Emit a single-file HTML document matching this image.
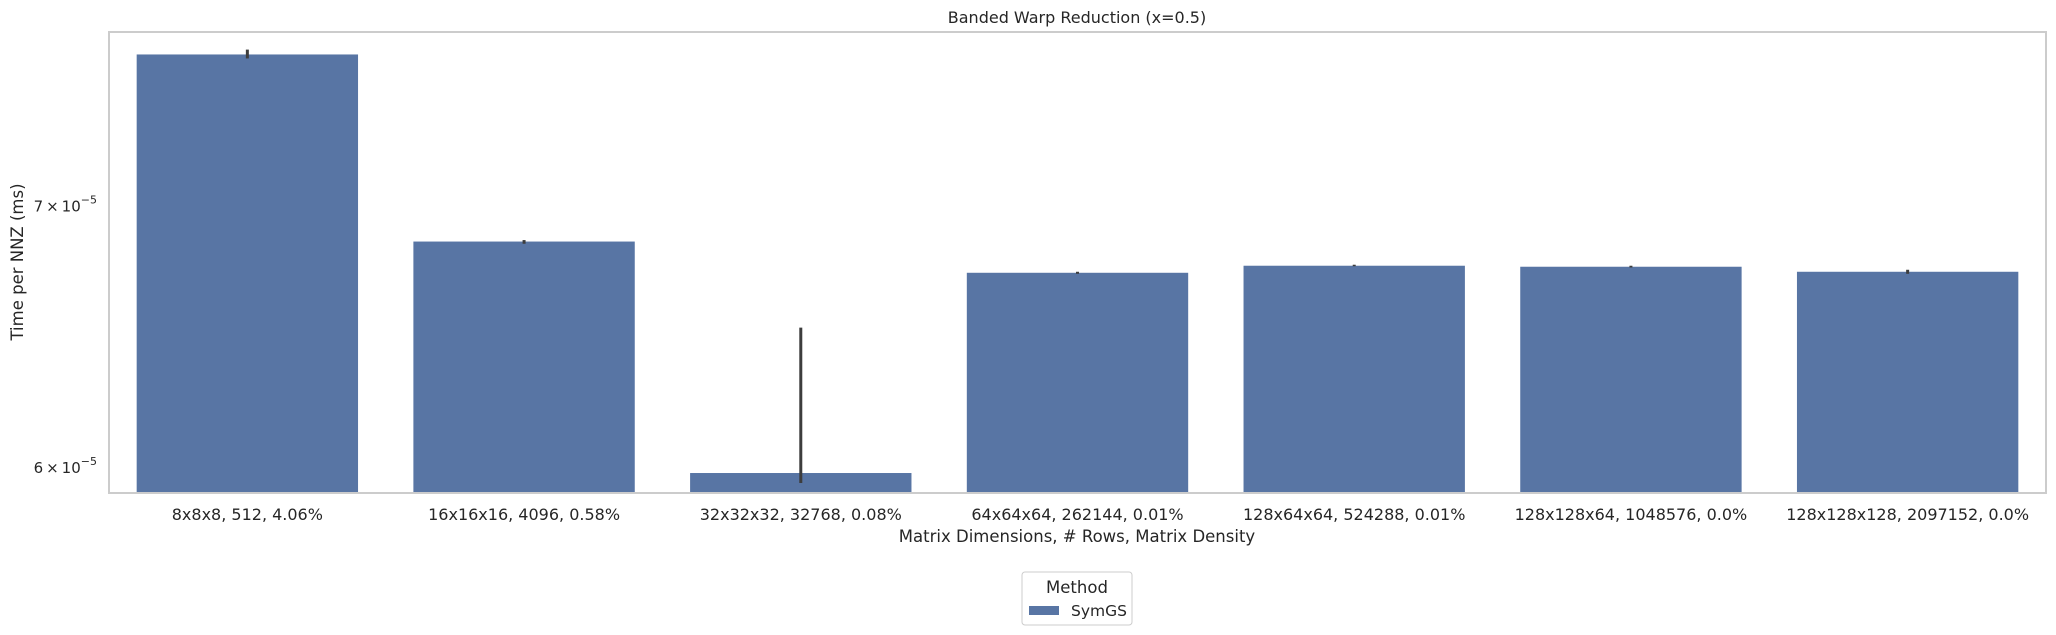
<!DOCTYPE html>
<html><head><meta charset="utf-8"><style>
body{margin:0;background:#fff;}
svg{display:block;font-family:"DejaVu Sans","Liberation Sans",sans-serif;}
</style></head><body>
<svg id="chart" width="2056" height="635" viewBox="0 0 2056 635" xmlns="http://www.w3.org/2000/svg">
<rect x="0" y="0" width="2056" height="635" fill="#fff"/>
<text x="1077" y="23" font-size="16" text-anchor="middle" fill="#262626">Banded Warp Reduction (x=0.5)</text>
<g id="bars"></g>
<g id="errs"></g>
<rect x="109" y="32" width="1937" height="461" fill="none" stroke="#cccccc" stroke-width="2"/>
<g id="xticks"></g>
<g id="yticks"></g>
<text x="1077" y="542" font-size="16.5" text-anchor="middle" fill="#262626">Matrix Dimensions, # Rows, Matrix Density</text>
<text transform="translate(23,262) rotate(-90)" font-size="16.5" text-anchor="middle" fill="#262626">Time per NNZ (ms)</text>
<g>
<rect x="1022" y="572" width="110" height="53" rx="3" fill="#fff" stroke="#cccccc" stroke-width="1"/>
<text x="1077" y="593" font-size="16.5" text-anchor="middle" fill="#262626">Method</text>
<rect x="1029" y="606" width="30" height="9" fill="#5875a4"/>
<text x="1071" y="616" font-size="15.5" fill="#262626">SymGS</text>
</g>
</svg>
<script>
const categories = ["8x8x8, 512, 4.06%","16x16x16, 4096, 0.58%","32x32x32, 32768, 0.08%","64x64x64, 262144, 0.01%","128x64x64, 524288, 0.01%","128x128x64, 1048576, 0.0%","128x128x128, 2097152, 0.0%"];
const values = [7.648e-5, 6.849e-5, 5.975e-5, 6.724e-5, 6.752e-5, 6.748e-5, 6.728e-5];
const errLow = [7.63e-5, 6.84e-5, 5.94e-5, 6.72e-5, 6.75e-5, 6.745e-5, 6.72e-5];
const errHigh = [7.67e-5, 6.855e-5, 6.51e-5, 6.728e-5, 6.756e-5, 6.752e-5, 6.736e-5];
const yTickValues = [6e-5, 7e-5];
const yTickMantissa = ["6", "7"];

const NS = "http://www.w3.org/2000/svg";
const L = 109, R = 2046, T = 32, B = 493;
const yMin = 5.905e-5, yMax = 7.75e-5;
function y(v){ return B - (Math.log10(v) - Math.log10(yMin)) / (Math.log10(yMax) - Math.log10(yMin)) * (B - T); }
const band = (R - L) / categories.length;
function xc(i){ return L + band * (i + 0.5); }
const bw = band * 0.8;

const gb = document.getElementById('bars');
const ge = document.getElementById('errs');
const gx = document.getElementById('xticks');
const gy = document.getElementById('yticks');
categories.forEach((c, i) => {
  const r = document.createElementNS(NS, 'rect');
  const top = y(values[i]);
  r.setAttribute('x', xc(i) - bw / 2);
  r.setAttribute('y', top);
  r.setAttribute('width', bw);
  r.setAttribute('height', B - top);
  r.setAttribute('fill', '#5875a4');
  
  
  gb.appendChild(r);
  const l = document.createElementNS(NS, 'line');
  l.setAttribute('x1', xc(i)); l.setAttribute('x2', xc(i));
  l.setAttribute('y1', Math.min(B, y(errLow[i]))); l.setAttribute('y2', y(errHigh[i]));
  l.setAttribute('stroke', '#3d3d3d'); l.setAttribute('stroke-width', '3');
  
  
  ge.appendChild(l);
  const t = document.createElementNS(NS, 'text');
  t.setAttribute('x', xc(i)); t.setAttribute('y', 520);
  t.setAttribute('font-size', '16'); t.setAttribute('text-anchor', 'middle'); t.setAttribute('fill', '#262626');
  t.textContent = c;
  
  
  gx.appendChild(t);
});
yTickValues.forEach((v, i) => {
  const t = document.createElementNS(NS, 'text');
  t.setAttribute('x', 97); t.setAttribute('y', y(v) + 7);
  t.setAttribute('font-size', '15'); t.setAttribute('text-anchor', 'end'); t.setAttribute('fill', '#262626');
  t.innerHTML = yTickMantissa[i] + '\u2009\u00d7\u200910<tspan dy="-8" font-size="11">\u22125</tspan>';
  
  
  gy.appendChild(t);
});
</script>
</body></html>
